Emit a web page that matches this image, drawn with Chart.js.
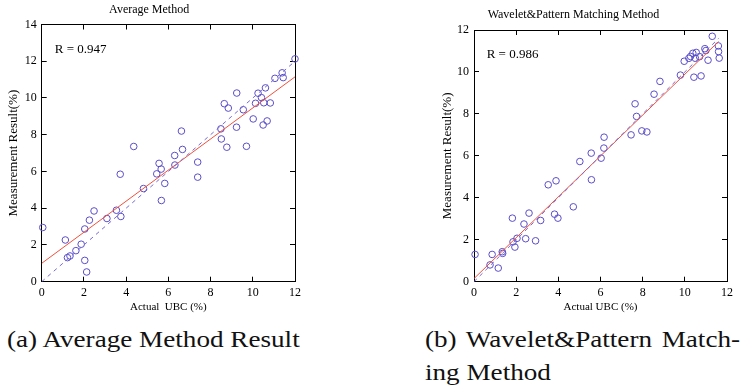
<!DOCTYPE html>
<html>
<head>
<meta charset="utf-8">
<script src="https://cdn.jsdelivr.net/npm/chart.js@4"></script>
<style>
  body { margin: 0; background: #fff; width: 745px; height: 387px; position: relative; overflow: hidden; }
  .box { position: absolute; top: 0; }
  .cap { position: absolute; font-family: "Liberation Serif", "Times New Roman", "DejaVu Serif", serif; font-size: 23px; color: #111; white-space: nowrap; transform: scaleX(1.18); transform-origin: 0 0; }
</style>
</head>
<body>
<div class="box" style="left:0;width:310px;height:320px"><canvas id="chartA"></canvas></div>
<div class="box" style="left:420px;width:325px;height:320px"><canvas id="chartB"></canvas></div>
<div class="cap" style="left:7px;top:327px">(a) Average Method Result</div>
<div class="cap" style="left:425px;top:327px;width:267px;text-align:justify;text-align-last:justify">(b) Wavelet&amp;Pattern Match-</div>
<div class="cap" style="left:425px;top:360px">ing Method</div>
<script>
// --- DATOS: Average Method ---
const avgX = [0.05, 1.12, 1.22, 1.34, 1.62, 1.87, 2.04, 2.04, 2.13, 2.26, 2.48, 3.09, 3.54, 3.72, 3.75,
  4.36, 4.82, 5.45, 5.56, 5.66, 5.67, 5.83, 6.30, 6.31, 6.62, 6.67, 7.39, 7.39, 8.49, 8.51,
  8.65, 8.77, 8.84, 9.23, 9.24, 9.55, 9.70, 10.02, 10.13, 10.25, 10.41, 10.49, 10.52, 10.60,
  10.68, 10.83, 11.05, 11.39, 11.44, 12.0];
const avgY = [2.95, 2.27, 1.31, 1.40, 1.69, 2.04, 2.87, 1.16, 0.53, 3.35, 3.85, 3.44, 3.89, 5.85, 3.55,
  7.36, 5.07, 5.87, 6.44, 6.13, 4.42, 5.35, 6.87, 6.35, 8.20, 7.20, 6.51, 5.69, 8.32, 7.77,
  9.69, 7.32, 9.45, 8.41, 10.27, 9.36, 7.37, 8.86, 9.71, 10.26, 10.02, 8.53, 9.74, 10.55,
  8.75, 9.73, 11.07, 11.37, 11.11, 12.13];
const avgFitX = [0, 12];
const avgFitY = [1.0, 11.15];
const avgDiag = [0, 12];

// --- DATOS: Wavelet&Pattern Matching Method ---
const wavX = [0.05, 0.76, 0.86, 1.15, 1.34, 1.36, 1.82, 1.85, 1.94, 2.04, 2.37, 2.45, 2.61, 2.92, 3.16,
  3.52, 3.82, 3.89, 3.98, 4.71, 5.02, 5.56, 5.57, 6.03, 6.16, 6.17, 7.45, 7.64, 7.71, 7.96,
  8.20, 8.54, 8.82, 9.79, 9.97, 10.19, 10.27, 10.38, 10.43, 10.50, 10.54, 10.70, 10.77, 10.95,
  11.00, 11.10, 11.30, 11.59, 11.60, 11.63];
const wavY = [1.30, 0.80, 1.30, 0.65, 1.43, 1.35, 3.03, 1.90, 1.65, 2.07, 2.75, 2.05, 3.27, 1.95, 2.92,
  4.62, 3.22, 4.81, 3.03, 3.57, 5.73, 6.13, 4.86, 5.89, 6.37, 6.89, 7.00, 8.48, 7.88, 7.19,
  7.14, 8.94, 9.55, 9.85, 10.51, 10.65, 10.74, 10.89, 9.75, 10.65, 10.93, 10.73, 9.81, 11.11,
  11.02, 10.56, 11.70, 11.24, 10.97, 10.66];
const wavFitX = [0, 11.6];
const wavFitY = [0.15, 11.45];
const wavDiag = [0, 11.6];

const serif = '"Liberation Serif", "Times New Roman", "DejaVu Serif", serif';
const azulPunto = "#5a4ec8";
const azulGuion = "#776cd6";
const rojo = "#f0503c";

// texto "R = ..." dentro del area
const textoR = {
  id: "textoR",
  afterDatasetsDraw(chart, args, opts) {
    const { ctx, scales } = chart;
    ctx.save();
    ctx.font = "13px " + serif;
    ctx.fillStyle = "#000";
    ctx.textBaseline = "middle";
    ctx.fillText(opts.text, scales.x.getPixelForValue(opts.x), scales.y.getPixelForValue(opts.y));
    ctx.restore();
  },
};

function crearGrafico(id, cfg) {
  const puntos = cfg.xs.map((v, i) => ({ x: v, y: cfg.ys[i] }));
  const ajuste = cfg.fitX.map((v, i) => ({ x: v, y: cfg.fitY[i] }));
  const diag = cfg.diag.map((v) => ({ x: v, y: v }));
  const tickFont = { family: serif, size: 12 };
  const ejeExtra = (pos, max) => ({
    position: pos,
    min: 0,
    max: max,
    ticks: { display: false, stepSize: 2 },
    grid: { drawOnChartArea: false, tickLength: -5, color: "#000" },
    border: { color: "#000", width: 1 },
    afterFit(s) {
      if (pos === "top") s.height = 0;
      else s.width = 0;
    },
  });
  return new Chart(document.getElementById(id), {
    type: "scatter",
    data: {
      datasets: [
        {
          data: diag,
          showLine: true,
          pointRadius: 0,
          borderColor: azulGuion,
          borderWidth: 1,
          borderDash: [4, 4],
        },
        {
          data: ajuste,
          showLine: true,
          pointRadius: 0,
          borderColor: rojo,
          borderWidth: 1,
        },
        {
          data: puntos,
          clip: 6,
          pointStyle: "circle",
          pointRadius: 3.3,
          pointBackgroundColor: "rgba(0,0,0,0)",
          pointBorderColor: azulPunto,
          pointBorderWidth: 1,
        },
      ],
    },
    options: {
      responsive: true,
      maintainAspectRatio: false,
      animation: false,
      layout: { padding: { left: 0, right: cfg.padRight, top: 0, bottom: 0 } },
      plugins: {
        legend: { display: false },
        tooltip: { enabled: false },
        title: {
          display: true,
          text: cfg.title,
          color: "#000",
          font: { family: serif, size: 12, weight: "normal" },
          padding: { top: cfg.titleTop, bottom: cfg.titleBottom },
        },
        textoR: { text: cfg.rText, x: cfg.rX, y: cfg.rY },
      },
      scales: {
        x: {
          min: 0,
          max: 12,
          ticks: { stepSize: 2, color: "#000", font: tickFont, padding: 9, maxRotation: 0 },
          grid: { drawOnChartArea: false, tickLength: -5, color: "#000" },
          border: { color: "#000", width: 1 },
          title: {
            display: true,
            text: cfg.xTitle,
            color: "#000",
            font: { family: serif, size: 11 },
            padding: { top: 0, bottom: 6 },
          },
          afterFit(s) { s.height = 38.3; },
        },
        y: {
          min: 0,
          max: cfg.yMax,
          ticks: { stepSize: 2, color: "#000", font: tickFont, padding: 10 },
          grid: { drawOnChartArea: false, tickLength: -5, color: "#000" },
          border: { color: "#000", width: 1 },
          title: {
            display: true,
            text: "Measurement Result(%)",
            color: "#000",
            font: { family: serif, size: 13 },
            padding: { top: cfg.yTitleTop, bottom: 0 },
          },
          afterFit(s) { s.width = cfg.yWidth; },
        },
        x2: ejeExtra("top", 12),
        y2: ejeExtra("right", cfg.yMax),
      },
    },
    plugins: [textoR],
  });
}

crearGrafico("chartA", {
  xs: avgX, ys: avgY, fitX: avgFitX, fitY: avgFitY, diag: avgDiag,
  title: "Average Method", titleTop: 3, titleBottom: 7.1,
  xTitle: "Actual  UBC (%)", yMax: 14, yWidth: 41.7, yTitleTop: 5.5, padRight: 11.7,
  rText: "R = 0.947", rX: 0.62, rY: 12.64,
});

crearGrafico("chartB", {
  xs: wavX, ys: wavY, fitX: wavFitX, fitY: wavFitY, diag: wavDiag,
  title: "Wavelet&Pattern Matching Method", titleTop: 8, titleBottom: 7.6,
  xTitle: "Actual UBC (%)", yMax: 12, yWidth: 54, yTitleTop: 19.5, padRight: 18,
  rText: "R = 0.986", rX: 0.6, rY: 10.84,
});
</script>
</body>
</html>
